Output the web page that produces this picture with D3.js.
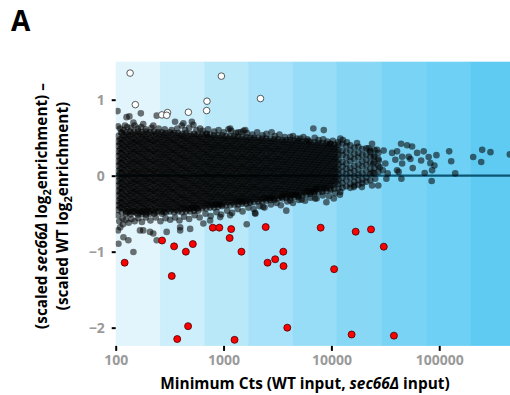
<!DOCTYPE html>
<html><head><meta charset="utf-8">
<script src="https://cdn.jsdelivr.net/npm/d3@7"></script>
<style>
html,body{margin:0;padding:0;background:#fff;}
text{font-family:"Open Sans",sans-serif;}
</style></head>
<body><svg id="c" width="510" height="395"></svg>
<script>
// ---- data ----
const xTicks = [100, 1000, 10000, 100000];
const yTicks = [-2, -1, 0, 1];
const bandEdges = [100, 258, 663, 1697, 4380, 11200, 29000, 75600, 194000, 453000];
const bandColors = ["#e3f5fc","#cdeefb","#b9e8f9","#a8e1fa","#98ddf8","#88d7f5","#79d3f4","#6ed0f4","#5fcbf2"];

// dense core, layer A (one entry per Cts column)
const coreCts = [105,114,125,136,148,161,175,191,208,227,247,269,293,319,348,379,413,449,490,533,581,633,689,751,818,891,971,1057,1152,1254,1367,1489,1622,1767,1925,2097,2285,2489,2711,2953,3217,3505,3818,4159,4531,4936,5377,5857,6381,6951,7572,8249,8986,9789,10664,11617,12655,13750,14980,16320,17780,19360,21090,22970,25020,27250];
const coreY = [
[.52,.45,.39,.32,.26,.19,.13,.06,.00,-.07,-.13,-.20,-.26,-.33,-.39,-.45],
[.56,.49,.43,.36,.30,.23,.17,.10,.04,-.03,-.09,-.16,-.22,-.29,-.35,-.42,-.48],
[.57,.51,.44,.38,.31,.25,.18,.12,.05,-.01,-.08,-.14,-.21,-.27,-.34,-.40,-.47,-.50],
[.58,.52,.45,.39,.32,.26,.19,.13,.06,.00,-.07,-.13,-.20,-.26,-.33,-.39,-.46,-.51],
[.57,.50,.44,.37,.31,.24,.18,.11,.05,-.02,-.08,-.15,-.21,-.28,-.34,-.41,-.47],
[.58,.52,.45,.39,.32,.26,.19,.13,.06,.00,-.07,-.13,-.20,-.26,-.33,-.39,-.46,-.51],
[.57,.51,.44,.38,.31,.25,.18,.12,.05,-.01,-.08,-.14,-.21,-.27,-.34,-.40,-.47,-.50],
[.58,.51,.45,.38,.32,.25,.19,.12,.06,-.01,-.07,-.14,-.20,-.27,-.33,-.40,-.46,-.51],
[.57,.50,.44,.37,.31,.24,.18,.11,.05,-.02,-.08,-.15,-.21,-.28,-.34,-.41,-.47,-.50],
[.58,.52,.45,.39,.32,.26,.19,.13,.06,.00,-.07,-.13,-.20,-.26,-.33,-.39,-.46,-.50],
[.57,.50,.44,.37,.31,.24,.18,.11,.05,-.02,-.08,-.15,-.21,-.28,-.34,-.41,-.47],
[.57,.51,.44,.38,.31,.25,.18,.12,.05,-.01,-.08,-.14,-.21,-.27,-.34,-.40,-.47,-.50],
[.56,.50,.43,.37,.30,.24,.17,.11,.04,-.02,-.09,-.15,-.22,-.28,-.35,-.41,-.48],
[.57,.50,.44,.37,.31,.24,.18,.11,.05,-.02,-.08,-.15,-.21,-.28,-.34,-.41,-.47],
[.56,.49,.43,.36,.30,.23,.17,.10,.04,-.03,-.09,-.16,-.22,-.29,-.35,-.42,-.48],
[.56,.50,.43,.37,.30,.24,.17,.11,.04,-.02,-.09,-.15,-.22,-.28,-.35,-.41,-.47],
[.55,.49,.42,.36,.29,.23,.16,.10,.03,-.03,-.10,-.16,-.23,-.29,-.36,-.42,-.48],
[.56,.49,.43,.36,.30,.23,.17,.10,.04,-.03,-.09,-.16,-.22,-.29,-.35,-.42,-.47],
[.55,.48,.42,.35,.29,.22,.16,.09,.03,-.04,-.10,-.17,-.23,-.30,-.36,-.43,-.47],
[.55,.49,.42,.36,.29,.23,.16,.10,.03,-.03,-.10,-.16,-.23,-.29,-.36,-.42,-.46],
[.54,.48,.41,.35,.28,.22,.15,.09,.02,-.04,-.11,-.17,-.24,-.30,-.37,-.43,-.46],
[.55,.48,.42,.35,.29,.22,.16,.09,.03,-.04,-.10,-.17,-.23,-.30,-.36,-.43],
[.54,.47,.41,.34,.28,.21,.15,.08,.02,-.05,-.11,-.18,-.24,-.31,-.37,-.43],
[.54,.48,.41,.35,.28,.22,.15,.09,.02,-.04,-.11,-.17,-.24,-.30,-.37,-.42],
[.53,.47,.40,.34,.27,.21,.14,.08,.01,-.05,-.12,-.18,-.25,-.31,-.38,-.42],
[.53,.46,.40,.33,.27,.20,.14,.07,.01,-.06,-.12,-.19,-.25,-.32,-.38,-.41],
[.53,.47,.40,.34,.27,.21,.14,.08,.01,-.05,-.12,-.18,-.25,-.31,-.38,-.40],
[.52,.46,.39,.33,.26,.20,.13,.07,.00,-.06,-.13,-.19,-.26,-.32,-.39],
[.52,.45,.39,.32,.26,.19,.13,.06,.00,-.07,-.13,-.20,-.26,-.33,-.39],
[.52,.46,.39,.33,.26,.20,.13,.07,.00,-.06,-.13,-.19,-.26,-.32,-.38],
[.51,.45,.38,.32,.25,.19,.12,.06,-.01,-.07,-.14,-.20,-.27,-.33,-.38],
[.51,.44,.38,.31,.25,.18,.12,.05,-.01,-.08,-.14,-.21,-.27,-.34,-.37],
[.51,.45,.38,.32,.25,.19,.12,.06,-.01,-.07,-.14,-.20,-.27,-.33,-.37],
[.50,.44,.37,.31,.24,.18,.11,.05,-.02,-.08,-.15,-.21,-.28,-.34,-.36],
[.50,.43,.37,.30,.24,.17,.11,.04,-.02,-.09,-.15,-.22,-.28,-.35],
[.50,.44,.37,.31,.24,.18,.11,.05,-.02,-.08,-.15,-.21,-.28,-.34],
[.49,.43,.36,.30,.23,.17,.10,.04,-.03,-.09,-.16,-.22,-.29,-.34],
[.49,.42,.36,.29,.23,.16,.10,.03,-.03,-.10,-.16,-.23,-.29,-.33],
[.49,.43,.36,.30,.23,.17,.10,.04,-.03,-.09,-.16,-.22,-.29,-.32],
[.48,.42,.35,.29,.22,.16,.09,.03,-.04,-.10,-.17,-.23,-.30,-.32],
[.48,.41,.35,.28,.22,.15,.09,.02,-.04,-.11,-.17,-.24,-.30],
[.47,.41,.34,.28,.21,.15,.08,.02,-.05,-.11,-.18,-.24,-.30],
[.47,.41,.34,.28,.21,.15,.08,.02,-.05,-.11,-.18,-.24,-.29],
[.47,.40,.34,.27,.21,.14,.08,.01,-.05,-.12,-.18,-.25,-.29],
[.46,.40,.33,.27,.20,.14,.07,.01,-.06,-.12,-.19,-.25,-.28],
[.46,.39,.33,.26,.20,.13,.07,.00,-.06,-.13,-.19,-.26,-.28],
[.45,.39,.32,.26,.19,.13,.06,.00,-.07,-.13,-.20,-.26],
[.45,.38,.32,.25,.19,.12,.06,-.01,-.07,-.14,-.20,-.25],
[.44,.38,.31,.25,.18,.12,.05,-.01,-.08,-.14,-.21,-.24],
[.44,.37,.31,.24,.18,.11,.05,-.02,-.08,-.15,-.21,-.23],
[.43,.37,.30,.24,.17,.11,.04,-.02,-.09,-.15,-.22],
[.43,.36,.30,.23,.17,.10,.04,-.03,-.09,-.16,-.21],
[.42,.36,.29,.23,.16,.10,.03,-.03,-.10,-.16,-.20],
[.42,.35,.29,.22,.16,.09,.03,-.04,-.10,-.17,-.19],
[.41,.35,.28,.22,.15,.09,.02,-.04,-.11,-.17],
[.41,.34,.28,.21,.15,.08,.02,-.05,-.11,-.17],
[.42,.33,.27,.18,.12,.05,-.03,-.10,-.16],
[.39,.31,.24,.16,.09,.02,-.06,-.14],
[.40,.33,.25,.19,.10,.04,-.03,-.11,-.16],
[.37,.29,.22,.13,.06,-.01,-.08,-.13],
[.38,.30,.24,.15,.08,.01,-.06,-.12],
[.35,.27,.19,.12,.03,-.05,-.10],
[.36,.28,.21,.14,.06,-.02,-.08],
[.33,.25,.17,.09,.02,-.06],
[.34,.26,.18,.10,.03],
[.30,.22,.13,.05]
];

// dense core, layer B (between the columns above)
const coreCts2 = [110,119,130,142,154,168,183,199,217,236,258,281,306,333,363,396,431,469,511,557,606,660,719,783,853,930,1013,1103,1202,1309,1426,1554,1693,1844,2009,2189,2385,2598,2830,3082,3358,3658,3985,4341,4729,5152,5612,6114,6660,7255,7903,8610,9379,10220,11130];
const coreY2 = [
[.48,.42,.35,.29,.22,.16,.09,.03,-.04,-.10,-.17,-.23,-.30,-.36,-.42],
[.53,.47,.40,.34,.27,.21,.14,.08,.01,-.05,-.12,-.18,-.25,-.31,-.38,-.44],
[.54,.48,.41,.35,.28,.22,.15,.09,.02,-.04,-.11,-.17,-.24,-.30,-.37,-.43,-.48],
[.55,.48,.42,.35,.29,.22,.16,.09,.03,-.04,-.10,-.17,-.23,-.30,-.36,-.43,-.48],
[.54,.47,.41,.34,.28,.21,.15,.08,.02,-.05,-.11,-.18,-.24,-.31,-.37,-.44,-.49],
[.55,.48,.42,.35,.29,.22,.16,.09,.03,-.04,-.10,-.17,-.23,-.30,-.36,-.43,-.48],
[.54,.48,.41,.35,.28,.22,.15,.09,.02,-.04,-.11,-.17,-.24,-.30,-.37,-.43,-.48],
[.55,.48,.42,.35,.29,.22,.16,.09,.03,-.04,-.10,-.17,-.23,-.30,-.36,-.43,-.48],
[.54,.47,.41,.34,.28,.21,.15,.08,.02,-.05,-.11,-.18,-.24,-.31,-.37,-.44],
[.55,.48,.42,.35,.29,.22,.16,.09,.03,-.04,-.10,-.17,-.23,-.30,-.36,-.43,-.48],
[.54,.48,.41,.35,.28,.22,.15,.09,.02,-.04,-.11,-.17,-.24,-.30,-.37,-.43],
[.54,.47,.41,.34,.28,.21,.15,.08,.02,-.05,-.11,-.18,-.24,-.31,-.37,-.44,-.48],
[.53,.47,.40,.34,.27,.21,.14,.08,.01,-.05,-.12,-.18,-.25,-.31,-.38,-.44],
[.54,.47,.41,.34,.28,.21,.15,.08,.02,-.05,-.11,-.18,-.24,-.31,-.37,-.44],
[.53,.46,.40,.33,.27,.20,.14,.07,.01,-.06,-.12,-.19,-.25,-.32,-.38,-.45],
[.53,.47,.40,.34,.27,.21,.14,.08,.01,-.05,-.12,-.18,-.25,-.31,-.38,-.44],
[.52,.46,.39,.33,.26,.20,.13,.07,.00,-.06,-.13,-.19,-.26,-.32,-.39,-.44],
[.52,.46,.39,.33,.26,.20,.13,.07,.00,-.06,-.13,-.19,-.26,-.32,-.39,-.44],
[.52,.45,.39,.32,.26,.19,.13,.06,.00,-.07,-.13,-.20,-.26,-.33,-.39,-.43],
[.52,.45,.39,.32,.26,.19,.13,.06,.00,-.07,-.13,-.20,-.26,-.33,-.39,-.43],
[.51,.45,.38,.32,.25,.19,.12,.06,-.01,-.07,-.14,-.20,-.27,-.33,-.40],
[.51,.44,.38,.31,.25,.18,.12,.05,-.01,-.08,-.14,-.21,-.27,-.34,-.40],
[.51,.44,.38,.31,.25,.18,.12,.05,-.01,-.08,-.14,-.21,-.27,-.34,-.39],
[.50,.44,.37,.31,.24,.18,.11,.05,-.02,-.08,-.15,-.21,-.28,-.34,-.39],
[.50,.43,.37,.30,.24,.17,.11,.04,-.02,-.09,-.15,-.22,-.28,-.35,-.38],
[.50,.43,.37,.30,.24,.17,.11,.04,-.02,-.09,-.15,-.22,-.28,-.35,-.38],
[.49,.43,.36,.30,.23,.17,.10,.04,-.03,-.09,-.16,-.22,-.29,-.35],
[.49,.42,.36,.29,.23,.16,.10,.03,-.03,-.10,-.16,-.23,-.29,-.35],
[.49,.42,.36,.29,.23,.16,.10,.03,-.03,-.10,-.16,-.23,-.29,-.35],
[.48,.42,.35,.29,.22,.16,.09,.03,-.04,-.10,-.17,-.23,-.30,-.35],
[.48,.41,.35,.28,.22,.15,.09,.02,-.04,-.11,-.17,-.24,-.30,-.34],
[.48,.41,.35,.28,.22,.15,.09,.02,-.04,-.11,-.17,-.24,-.30,-.34],
[.47,.41,.34,.28,.21,.15,.08,.02,-.05,-.11,-.18,-.24,-.31],
[.47,.40,.34,.27,.21,.14,.08,.01,-.05,-.12,-.18,-.25,-.31],
[.47,.40,.34,.27,.21,.14,.08,.01,-.05,-.12,-.18,-.25,-.31],
[.46,.40,.33,.27,.20,.14,.07,.01,-.06,-.12,-.19,-.25,-.31],
[.46,.39,.33,.26,.20,.13,.07,.00,-.06,-.13,-.19,-.26,-.30],
[.46,.39,.33,.26,.20,.13,.07,.00,-.06,-.13,-.19,-.26,-.30],
[.45,.39,.32,.26,.19,.13,.06,.00,-.07,-.13,-.20,-.26,-.29],
[.45,.38,.32,.25,.19,.12,.06,-.01,-.07,-.14,-.20,-.27],
[.45,.38,.32,.25,.19,.12,.06,-.01,-.07,-.14,-.20,-.27],
[.44,.38,.31,.25,.18,.12,.05,-.01,-.08,-.14,-.21,-.26],
[.44,.37,.31,.24,.18,.11,.05,-.02,-.08,-.15,-.21,-.26],
[.43,.37,.30,.24,.17,.11,.04,-.02,-.09,-.15,-.22,-.25],
[.43,.36,.30,.23,.17,.10,.04,-.03,-.09,-.16,-.22,-.25],
[.42,.36,.29,.23,.16,.10,.03,-.03,-.10,-.16,-.23],
[.42,.35,.29,.22,.16,.09,.03,-.04,-.10,-.17,-.22],
[.41,.35,.28,.22,.15,.09,.02,-.04,-.11,-.17,-.21],
[.41,.34,.28,.21,.15,.08,.02,-.05,-.11,-.18,-.21],
[.40,.34,.27,.21,.14,.08,.01,-.05,-.12,-.18],
[.40,.33,.27,.20,.14,.07,.01,-.06,-.12,-.18],
[.39,.33,.26,.20,.13,.07,.00,-.06,-.13,-.17],
[.39,.32,.26,.19,.13,.06,.00,-.07,-.13],
[.38,.32,.25,.19,.12,.06,-.01,-.07,-.13],
[.37,.31,.24,.18,.11,.05,-.02,-.08]
];

// fringe of the dense core
const haloCts = [110,118,128,139,150,160,172,190,215,250,285,330,372,440,480,560,640,720,820,900,1000,1180,1300,1450,1650,1850,2050,2300,2500,3000,3300,3700,4400,4800,5500,6000,7000,7600,8400,9200,10300,11500,12800,
104,108,116,124,132,140,150,162,175,190,210,235,260,290,320,355,390,430,480,540,600,680,760,860,950,1080,1200,1350,1500,1700,1900,2150,2400,2750,3100,3400,3900,4400,5000,5700,6400,7300,8300,9500,10800,12000];
const haloY = [0.62,0.60,0.64,0.63,0.66,0.62,0.64,0.61,0.63,0.62,0.61,0.60,0.62,0.60,0.63,0.60,0.59,0.61,0.58,0.60,0.57,0.59,0.56,0.57,0.56,0.54,0.57,0.53,0.55,0.52,0.54,0.51,0.52,0.49,0.51,0.48,0.50,0.47,0.48,0.45,0.46,0.44,0.47,
-0.52,-0.60,-0.56,-0.58,-0.62,-0.57,-0.60,-0.56,-0.61,-0.55,-0.59,-0.55,-0.60,-0.56,-0.58,-0.55,-0.59,-0.54,-0.57,-0.52,-0.55,-0.50,-0.53,-0.48,-0.51,-0.46,-0.49,-0.44,-0.47,-0.42,-0.44,-0.40,-0.42,-0.38,-0.36,-0.39,-0.34,-0.36,-0.32,-0.33,-0.29,-0.30,-0.26,-0.27,-0.23,-0.25];

// scattered points outside the core
const sparseCts = [104,126,146,134,171,122,180,223,240,355,410,424,508,525,606,700,1110,1152,1370,1590,1530,2790,4160,5150,6800,8500,6150,9800,12100,13960,17290,22150,26500,
23820,30520,24660,27500,31620,36550,40640,44250,50360,55980,45290,52120,39180,45290,54050,62370,71780,79800,67920,56750,33270,40640,42060,82760,90190,85880,73290,32350,44590,27230,85110,94190,123600,129100,140600,206500,250100,245000,298700,451500,
24400,28000,24000,30000,25500,23000,
110,118,146,106,131,180,168,208,223,240,297,396,396,490,650,751,930,1152,1640,1970,1960,2320,3818,3470,4160,5300,7050,7240,8986,10530,12100,16150,19180,23820,
105,112,105,117];
const sparseY = [0.85,0.77,0.70,0.78,0.82,0.66,0.68,0.66,0.79,0.71,0.66,0.69,0.71,0.67,0.62,0.55,0.61,0.62,0.57,0.60,0.59,0.57,0.51,0.49,0.62,0.60,0.46,0.42,0.49,0.44,0.43,0.36,0.34,
0.42,0.33,0.245,0.20,0.16,0.30,0.32,0.42,0.40,0.385,0.25,0.25,0.21,0.16,0.22,0.30,0.32,0.245,0.20,0.10,0.03,0.07,0.05,0.165,0.135,0.07,0.035,-0.04,-0.04,-0.13,-0.07,0.27,0.32,0.19,0.03,0.245,0.34,0.18,0.31,0.28,
0.16,0.11,0.04,0.07,-0.04,0.31,
-0.68,-0.81,-1.005,-0.895,-0.85,-0.72,-0.72,-0.74,-0.76,-0.85,-0.74,-0.68,-0.72,-0.70,-0.63,-0.59,-0.545,-0.52,-0.64,-0.50,-0.49,-0.41,-0.46,-0.28,-0.325,-0.315,-0.30,-0.17,-0.35,-0.30,-0.215,-0.15,-0.15,-0.13,
0.65,0.57,-0.72,-0.64];

// highlighted genes
const whiteCts = [136,152,268,302,297,472,697,702,955,2200];
const whiteY = [1.35,0.935,0.80,0.83,0.795,0.835,0.857,0.98,1.31,1.015];
const redCts = [121,269,348,447,519,331,469,372,795,914,1177,1139,1465,1265,2460,3580,3010,2560,3600,3900,7950,10600,16800,23300,30600,15400,38000];
const redY = [-1.145,-0.853,-0.93,-1.0,-0.9,-1.32,-1.98,-2.15,-0.684,-0.684,-0.703,-0.82,-1.0,-2.16,-0.676,-1.0,-1.1,-1.145,-1.19,-2.0,-0.684,-1.23,-0.737,-0.707,-0.934,-2.09,-2.105];

// ---- drawing ----
const svg = d3.select("#c");
const pL = 115.7, pR = 510, pT = 61.7, pB = 345.9;
const x = d3.scaleLog().domain([100, 453000]).range([pL, pR]);
const y = d3.scaleLinear().domain([-2.24, 1.5]).range([pB, pT]);

svg.append("defs").append("clipPath").attr("id","plotclip")
  .append("rect").attr("x",pL).attr("y",pT).attr("width",pR-pL).attr("height",pB-pT);

const bands = d3.range(bandColors.length).map(i => ({a: bandEdges[i], b: bandEdges[i+1], c: bandColors[i]}));
svg.append("g").selectAll("rect").data(bands).join("rect")
  .attr("x", d => x(d.a)).attr("y", pT)
  .attr("width", d => x(d.b) - x(d.a) + 0.5).attr("height", pB - pT)
  .attr("fill", d => d.c);

const plot = svg.append("g").attr("clip-path","url(#plotclip)");
plot.append("line").attr("x1", pL).attr("x2", pR).attr("y1", y(0)).attr("y2", y(0))
  .attr("stroke","#0b5674").attr("stroke-width",2.2);

const cloud = [];
coreCts.forEach((c,i) => coreY[i].forEach(v => cloud.push([c, v])));
coreCts2.forEach((c,i) => coreY2[i].forEach(v => cloud.push([c, v])));
haloCts.forEach((c,i) => cloud.push([c, haloY[i]]));
sparseCts.forEach((c,i) => cloud.push([c, sparseY[i]]));
plot.append("g").selectAll("circle").data(cloud).join("circle")
  .attr("cx", d => x(d[0])).attr("cy", d => y(d[1])).attr("r", 3.3)
  .attr("fill","#000").attr("fill-opacity",0.55);

plot.append("g").selectAll("circle").data(whiteCts.map((c,i)=>[c, whiteY[i]])).join("circle")
  .attr("cx", d => x(d[0])).attr("cy", d => y(d[1])).attr("r", 3.3)
  .attr("fill","#fff").attr("stroke","#333").attr("stroke-width",0.8);
plot.append("g").selectAll("circle").data(redCts.map((c,i)=>[c, redY[i]])).join("circle")
  .attr("cx", d => x(d[0])).attr("cy", d => y(d[1])).attr("r", 3.5)
  .attr("fill","#f00").attr("stroke","#400").attr("stroke-width",0.8);

// axes
const xa = svg.append("g").attr("transform", `translate(0,${pB})`)
  .call(d3.axisBottom(x).tickValues(xTicks).tickFormat(d3.format("d")).tickSize(5).tickPadding(4));
const ya = svg.append("g").attr("transform", `translate(${pL},0)`)
  .call(d3.axisLeft(y).tickValues(yTicks).tickFormat(d3.format("d")).tickSize(4).tickPadding(7));
[xa, ya].forEach(a => {
  a.select(".domain").remove();
  a.selectAll(".tick line").attr("stroke","#000").attr("stroke-width",2);
  a.selectAll(".tick text").attr("fill","#9a9a9a").attr("font-size",14).attr("font-weight","bold")
    .attr("font-family","'Open Sans',sans-serif");
});

// title letter
svg.append("text").attr("x", 11).attr("y", 31).attr("font-size", 28).attr("font-weight","bold")
  .attr("font-family","'Liberation Sans',Arial,sans-serif").text("A");

// x label
const xl = svg.append("text").attr("x", 305).attr("y", 389).attr("text-anchor","middle")
  .attr("font-size", 15.4).attr("font-weight","bold").attr("fill","#000");
xl.append("tspan").text("Minimum Cts (WT input, ");
xl.append("tspan").attr("font-style","italic").text("sec66Δ");
xl.append("tspan").text(" input)");

// y label (two lines)
const yl = svg.append("g").attr("transform","translate(47,206) rotate(-90)");
const l1 = yl.append("text").attr("text-anchor","middle").attr("font-size",15.3).attr("font-weight","bold");
l1.append("tspan").text("(scaled ");
l1.append("tspan").attr("font-style","italic").text("sec66Δ");
l1.append("tspan").text(" log");
l1.append("tspan").attr("font-size",11).attr("dy",4).text("2");
l1.append("tspan").attr("dy",-4).text("enrichment) –");
const l2 = yl.append("text").attr("text-anchor","middle").attr("y",21).attr("font-size",15.3).attr("font-weight","bold");
l2.append("tspan").text("(scaled WT log");
l2.append("tspan").attr("font-size",11).attr("dy",4).text("2");
l2.append("tspan").attr("dy",-4).text("enrichment)");
</script></body></html>
